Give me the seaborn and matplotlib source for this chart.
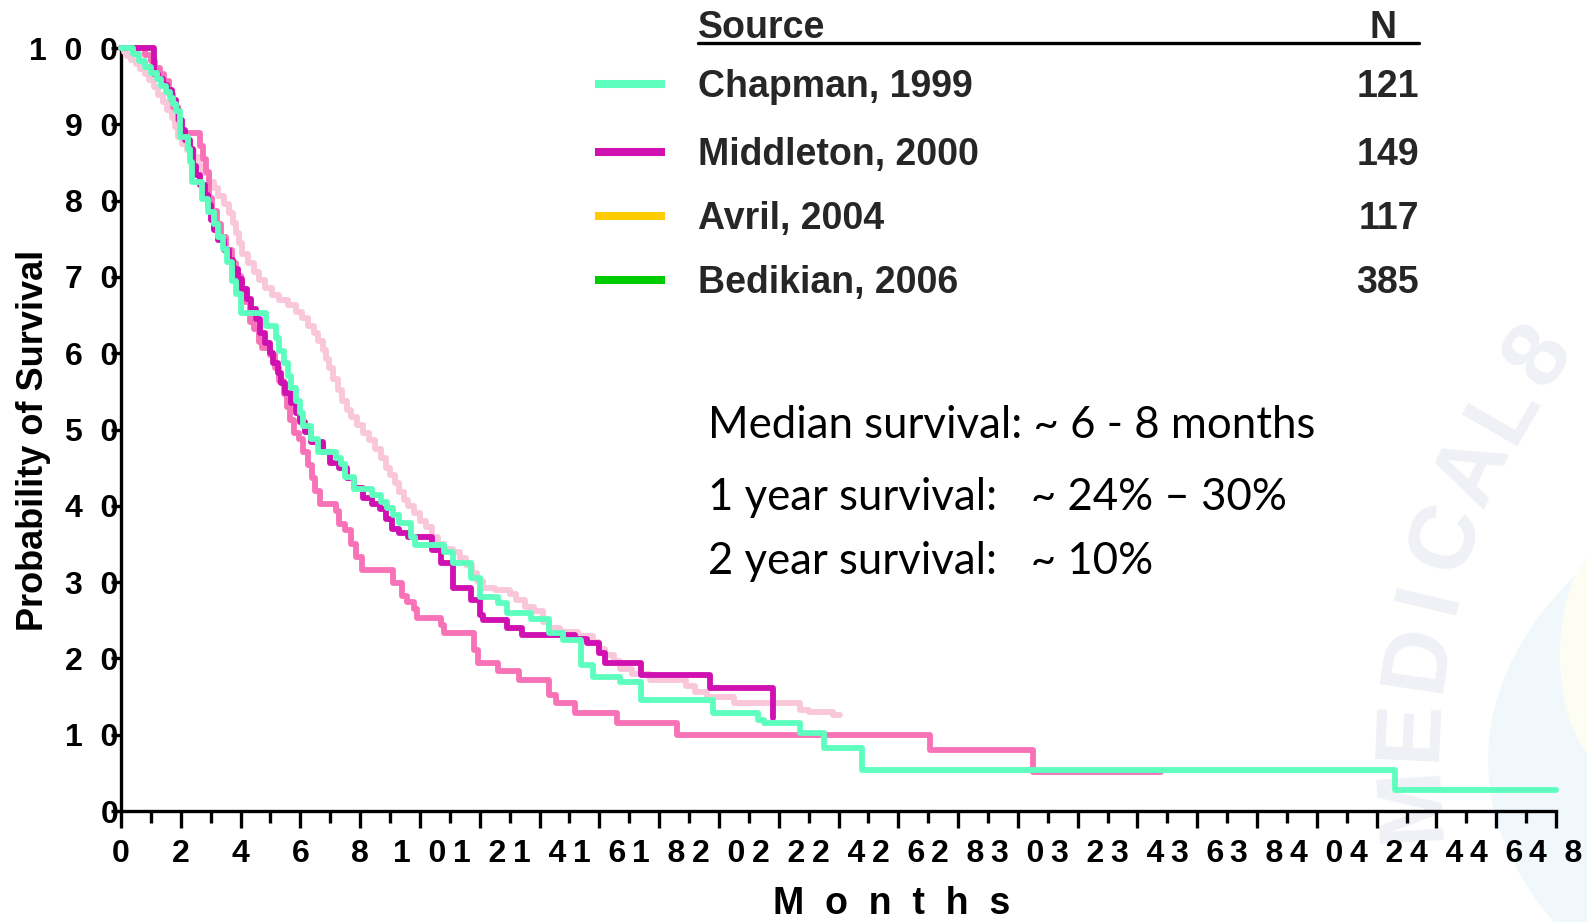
import numpy as np
import pandas as pd
import matplotlib
matplotlib.use("Agg")
import matplotlib.pyplot as plt
import seaborn as sns
from matplotlib.lines import Line2D
from matplotlib.patches import Circle, Ellipse
from matplotlib.ticker import MultipleLocator, FuncFormatter

# ---------------- data ----------------
studies = ["Chapman, 1999", "Middleton, 2000", "Avril, 2004", "Bedikian, 2006"]
patients = [121, 149, 117, 385]
legend_colors = ["#5EFFBE", "#D010B0", "#FFCC00", "#00CC00"]
curve_colors = ["#5EFFBE", "#D010B0", "#F872B8", "#F9C6DA"]

# Kaplan-Meier steps: month of each drop and survival (%) after it
chapman_t = [0, 0.4, 0.6, 0.8, 1.0, 1.2, 1.35, 1.5, 1.65, 1.75, 1.85, 1.97, 2.25, 2.3, 2.37,
             2.7, 2.9, 3.1, 3.25, 3.4, 3.55, 3.7, 3.85, 4.0, 4.85, 5.2, 5.3, 5.45, 5.6, 5.7,
             5.85, 6.0, 6.1, 6.35, 6.6, 7.2, 7.35, 7.5, 7.8, 8.4, 8.7, 8.9, 9.1, 9.3, 9.7,
             9.85, 10.8, 11.1, 11.7, 12.0, 12.6, 12.9, 13.7, 14.3, 14.8, 15.4, 15.8, 16.7,
             17.4, 19.8, 21.3, 21.5, 22.7, 23.5, 24.8, 42.6]
chapman_s = [100, 99.2, 98.3, 97.5, 96.7, 95.9, 95.0, 94.2, 93.4, 92.6, 91.7, 88.4, 86.8, 85.1, 82.4,
             80.2, 78.5, 76.9, 75.2, 73.6, 71.9, 69.4, 67.8, 65.3, 63.6, 62.0, 60.3, 58.7, 57.0, 55.4,
             53.7, 52.1, 50.4, 48.8, 47.1, 46.3, 45.5, 43.8, 42.2, 41.4, 40.5, 39.7, 38.8, 37.7, 35.9,
             34.9, 34.0, 32.5, 30.6, 28.1, 27.3, 26.0, 25.2, 23.3, 22.4, 19.1, 17.6, 16.9,
             14.5, 12.8, 11.9, 11.5, 10.2, 8.3, 5.4, 2.8]
chapman_end = 48.0

middleton_t = [0, 1.1, 1.25, 1.4, 1.55, 1.7, 1.85, 1.95, 2.05, 2.15, 2.3, 2.4, 2.5, 2.65, 2.8,
               2.9, 3.0, 3.1, 3.25, 3.45, 3.6, 3.75, 3.9, 4.05, 4.2, 4.35, 4.5, 4.65, 4.8, 5.0,
               5.1, 5.25, 5.35, 5.5, 5.7, 5.85, 6.0, 6.15, 6.35, 6.75, 7.0, 7.3, 7.55, 7.8, 8.1,
               8.4, 8.65, 8.85, 9.05, 9.3, 9.6, 10.4, 10.7, 11.1, 11.7, 12.0, 12.1, 12.9, 13.4,
               15.2, 15.6, 16.0, 16.2, 17.4, 19.7, 21.8]
middleton_s = [100, 96.6, 95.9, 95.2, 94.5, 93.2, 91.9, 90.6, 89.3, 88.0, 86.7, 84.6, 83.3, 82.0, 80.7,
               79.4, 77.4, 76.1, 74.8, 73.5, 72.2, 71.0, 69.7, 68.4, 67.1, 65.8, 64.5, 62.6, 61.3, 60.0,
               58.7, 57.4, 56.1, 54.8, 53.5, 52.2, 51.0, 49.7, 48.3, 47.0, 45.6, 44.9, 43.6, 42.3, 41.0,
               40.3, 39.6, 38.3, 37.0, 36.4, 35.9, 34.2, 32.5, 29.2, 27.7, 25.7, 25.0, 24.0, 23.1,
               22.5, 22.0, 20.7, 19.4, 17.8, 16.1, 12.2]
middleton_end = 21.8

avril_t = [0, 0.8, 1.0, 1.15, 1.3, 1.45, 1.6, 1.75, 1.9, 2.0, 2.65, 2.75, 2.85, 2.95, 3.05,
           3.2, 3.35, 3.5, 3.7, 3.85, 4.0, 4.15, 4.3, 4.45, 4.6, 4.7, 5.0, 5.15, 5.3, 5.45,
           5.55, 5.65, 5.8, 5.95, 6.1, 6.25, 6.4, 6.5, 6.65, 7.2, 7.3, 7.5, 7.7, 7.85, 8.05,
           9.1, 9.4, 9.55, 9.8, 9.9, 10.7, 10.8, 11.8, 11.95, 12.6, 13.3, 14.3, 14.55, 15.2,
           16.6, 18.6, 27.05, 30.5]
avril_s = [100, 99.1, 98.3, 97.4, 96.6, 95.7, 94.0, 92.3, 90.6, 88.9, 87.2, 85.5, 83.8, 80.3, 78.6,
           76.9, 75.2, 73.5, 71.8, 70.1, 68.4, 66.7, 64.1, 63.2, 61.5, 60.7, 59.8, 58.1, 56.4, 54.7,
           53.0, 51.3, 49.6, 48.7, 47.0, 45.3, 43.6, 41.9, 40.2, 39.3, 37.6, 36.8, 35.0, 33.3, 31.6,
           29.9, 28.2, 27.4, 26.5, 25.3, 24.4, 23.3, 21.1, 19.4, 18.4, 17.2, 15.2, 14.2, 12.8,
           11.5, 10.0, 8.0, 5.1]
avril_end = 34.8

bedikian_t = [0, 0.1, 0.2, 0.35, 0.5, 0.65, 0.8, 0.95, 1.1, 1.25, 1.4, 1.55, 1.7, 1.8, 1.9,
              2.05, 2.2, 2.45, 2.6, 2.75, 2.95, 3.1, 3.25, 3.45, 3.6, 3.75, 3.85, 3.95, 4.05,
              4.25, 4.45, 4.6, 4.8, 5.05, 5.3, 5.6, 5.85, 6.05, 6.25, 6.45, 6.6, 6.75, 6.85,
              6.95, 7.1, 7.25, 7.4, 7.55, 7.7, 7.9, 8.1, 8.3, 8.5, 8.7, 8.85, 9.0, 9.15, 9.3,
              9.45, 9.6, 9.8, 10.0, 10.2, 10.4, 10.6, 10.8, 11.1, 11.35, 11.55, 11.75, 11.9,
              12.1, 12.5, 13.0, 13.2, 13.5, 13.8, 14.1, 14.3, 14.7, 15.3, 15.8, 16.0, 16.2,
              16.5, 16.7, 17.1, 17.7, 18.9, 19.2, 19.6, 20.5, 22.7, 23.0, 23.8]
bedikian_s = [100, 99.5, 99.0, 98.4, 97.9, 97.3, 96.6, 95.8, 94.9, 93.9, 92.9, 91.9, 90.8, 89.6, 88.4,
              87.4, 86.6, 85.7, 84.6, 83.6, 82.5, 81.6, 80.6, 79.5, 78.4, 77.1, 75.8, 74.4, 73.0,
              71.8, 70.6, 69.6, 68.6, 67.6, 67.0, 66.3, 65.4, 64.6, 63.6, 62.6, 61.6, 60.4, 59.2,
              58.0, 56.6, 55.2, 53.8, 52.6, 51.6, 50.6, 49.6, 48.6, 47.4, 46.2, 45.0, 44.0, 43.0, 41.8,
              40.8, 40.0, 39.0, 38.0, 37.2, 35.9, 35.0, 34.4, 34.0, 33.2, 32.2, 31.2, 30.2,
              29.2, 28.9, 28.4, 27.6, 26.8, 26.2, 24.8, 24.0, 23.4, 23.0, 22.2, 21.2, 20.4,
              19.6, 18.6, 18.0, 17.2, 16.4, 15.6, 14.9, 14.1, 13.3, 13.0, 12.6]
bedikian_end = 24.05

summary_lines = ["Median survival: ~ 6 - 8 months",
                 "1 year survival:   ~ 24% \u2013 30%",
                 "2 year survival:   ~ 10%"]

# ---------------- tidy table ----------------
series = [(chapman_t, chapman_s, chapman_end),
          (middleton_t, middleton_s, middleton_end),
          (avril_t, avril_s, avril_end),
          (bedikian_t, bedikian_s, bedikian_end)]
frames = []
for name, (t, s, end) in zip(studies, series):
    frames.append(pd.DataFrame({"month": list(t) + [end],
                                "survival": list(s) + [s[-1]],
                                "study": name}))
df = pd.concat(frames, ignore_index=True)

# ---------------- figure ----------------
sns.set_theme(style="white")
plt.rcParams["font.family"] = ["Liberation Sans", "DejaVu Sans"]

W, H = 1587, 922
fig = plt.figure(figsize=(W / 100, H / 100), dpi=100)
fig.patch.set_facecolor("white")


def fx(px):
    return px / W


def fy(py):
    return 1 - py / H


# faint background emblem on the right (kept beneath the axes)
fig.patches.append(Circle((fx(2111), fy(760)), 623 / W, transform=fig.transFigure,
                          facecolor="#F1F8FC", edgecolor="none", zorder=-2))
fig.patches.append(Ellipse((fx(1610), fy(655)), 100 / W, 220 / H, transform=fig.transFigure,
                           facecolor="#FDFDF4", edgecolor="none", zorder=-2))
arc_letters = ["M", "E", "D", "I", "C", "A", "L", "8"]
arc_angles = [183.5, 177.5, 171.5, 166.5, 161.5, 155.5, 150, 144.8]
for ch, ang in zip(arc_letters, arc_angles):
    th = np.deg2rad(ang)
    cx = 2111 + 700 * np.cos(th)
    cy = 760 - 700 * np.sin(th)
    fig.text(fx(cx), fy(cy), ch, rotation=ang - 90, rotation_mode="anchor",
             ha="center", va="center", fontsize=66, fontweight="bold",
             color="#EFF1F7", zorder=-1)

ax = fig.add_axes([fx(121), fy(811), (1556 - 121) / W, (811 - 48) / H])
ax.set_facecolor("none")
ax.set_zorder(1)

draw_order = [3, 2, 1, 0]
for i in draw_order:
    sub = df[df["study"] == studies[i]]
    sns.lineplot(data=sub, x="month", y="survival", estimator=None, sort=False,
                 drawstyle="steps-post", color=curve_colors[i], linewidth=4.2,
                 legend=False, ax=ax, clip_on=False, zorder=3 + (3 - i) * 0.1)

ax.set_xlim(0, 48)
ax.set_ylim(0, 100)
for side in ["top", "right"]:
    ax.spines[side].set_visible(False)
for side in ["left", "bottom"]:
    ax.spines[side].set_color("black")
    ax.spines[side].set_linewidth(2.4)

ax.xaxis.set_major_locator(MultipleLocator(2))
ax.xaxis.set_minor_locator(MultipleLocator(1))
ax.yaxis.set_major_locator(MultipleLocator(10))
spaced = FuncFormatter(lambda v, pos: "  ".join(str(int(round(v)))))
ax.xaxis.set_major_formatter(spaced)
ax.yaxis.set_major_formatter(spaced)

ax.tick_params(axis="x", which="major", direction="out", length=12, width=2.4,
               color="black", pad=8, labelsize=23, bottom=True)
ax.tick_params(axis="x", which="minor", direction="out", length=8.5, width=2.4,
               color="black", bottom=True)
ax.tick_params(axis="y", which="major", direction="out", length=7, width=2.4,
               color="black", pad=-5, labelsize=23, left=True)
for lab in ax.get_xticklabels() + ax.get_yticklabels():
    lab.set_fontweight("bold")
    lab.set_color("black")

ax.set_xlabel("M  o  n  t  h  s", fontsize=27, fontweight="bold", color="black", va="center")
ax.xaxis.set_label_coords((892 - 121) / 1435, (811 - 904) / 763)
ax.set_ylabel("Probability of Survival", fontsize=26, fontweight="bold", color="black", va="center")
ax.yaxis.set_label_coords((34 - 121) / 1435, (811 - 440) / 763)

# ---------------- legend table ----------------
fig.text(fx(698), fy(28), "Source", fontsize=27, fontweight="bold", ha="left", va="center")
fig.text(fx(1397), fy(28), "N", fontsize=27, fontweight="bold", ha="right", va="center")
fig.add_artist(Line2D([fx(698), fx(1419)], [fy(43), fy(43)], color="black", linewidth=2.4,
                      transform=fig.transFigure))
row_y = [84, 152, 216, 280]
for name, n, col, yy in zip(studies, patients, legend_colors, row_y):
    fig.add_artist(Line2D([fx(595), fx(665)], [fy(yy), fy(yy)], color=col, linewidth=5.8,
                          solid_capstyle="butt", transform=fig.transFigure))
    fig.text(fx(698), fy(yy + 3), name, fontsize=27, fontweight="bold", ha="left", va="center")
    fig.text(fx(1419), fy(yy + 3), str(n), fontsize=27, fontweight="bold", ha="right", va="center")

# ---------------- summary text ----------------
for line, yy in zip(summary_lines, [425, 497, 561]):
    fig.text(fx(708), fy(yy), line, fontsize=31.5, family=["Lato", "DejaVu Sans"],
             ha="left", va="center", color="black")

fig.savefig("out.png", dpi=100)
